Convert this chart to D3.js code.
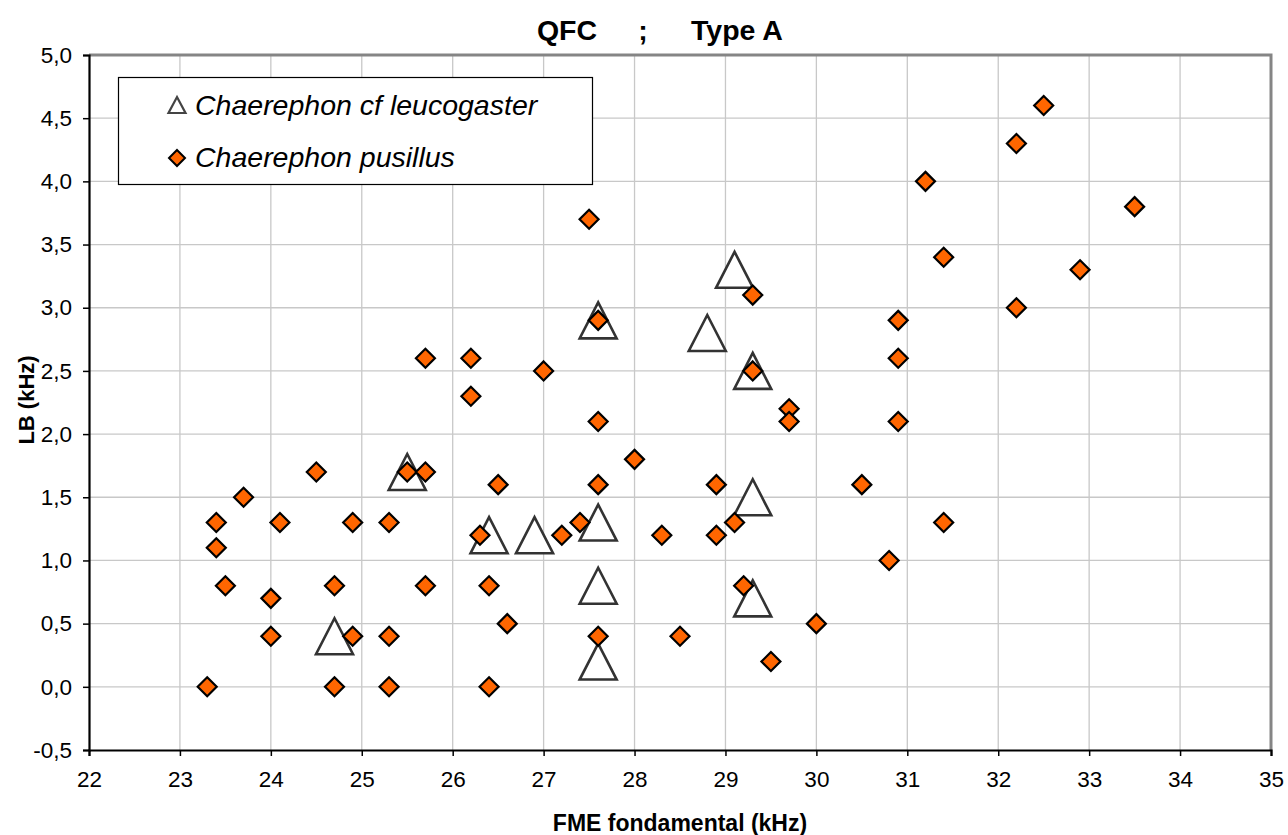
<!DOCTYPE html>
<html>
<head>
<meta charset="utf-8">
<script src="https://cdn.jsdelivr.net/npm/d3@7"></script>
<style>
  body { margin: 0; background: #fff; }
  text { font-family: Arial, "Liberation Sans", sans-serif; }
</style>
</head>
<body>
<div id="chart"></div>
<script>
// Chaerephon cf leucogaster (triangles)
let leucoX = [24.7, 25.5, 26.4, 26.9, 27.6, 27.6, 27.6, 27.6, 28.8, 29.1, 29.3, 29.3, 29.3]
let leucoY = [0.4, 1.7, 1.2, 1.2, 2.9, 1.3, 0.8, 0.2, 2.8, 3.3, 2.5, 1.5, 0.7]

// Chaerephon pusillus (diamonds)
let pusX = [23.3, 23.4, 23.4, 23.5, 23.7, 24.0, 24.0, 24.1, 24.5, 24.7, 24.7, 24.9, 24.9,
  25.3, 25.3, 25.3, 25.5, 25.7, 25.7, 25.7, 26.2, 26.2, 26.3, 26.4, 26.4, 26.5, 26.6,
  27.0, 27.2, 27.4, 27.5, 27.6, 27.6, 27.6, 27.6, 28.0, 28.3, 28.5, 28.9, 28.9, 29.1,
  29.2, 29.3, 29.3, 29.5, 29.7, 29.7, 30.0, 30.5, 30.8, 30.9, 30.9, 30.9, 31.2, 31.4,
  31.4, 32.2, 32.2, 32.5, 32.9, 33.5]
let pusY = [0.0, 1.3, 1.1, 0.8, 1.5, 0.7, 0.4, 1.3, 1.7, 0.8, 0.0, 1.3, 0.4,
  1.3, 0.4, 0.0, 1.7, 2.6, 1.7, 0.8, 2.6, 2.3, 1.2, 0.8, 0.0, 1.6, 0.5,
  2.5, 1.2, 1.3, 3.7, 2.9, 2.1, 1.6, 0.4, 1.8, 1.2, 0.4, 1.6, 1.2, 1.3,
  0.8, 3.1, 2.5, 0.2, 2.2, 2.1, 0.5, 1.6, 1.0, 2.9, 2.6, 2.1, 4.0, 3.4,
  1.3, 4.3, 3.0, 4.6, 3.3, 3.8]

let xTicks = d3.range(22, 36, 1)
let yTicks = d3.range(-0.5, 5.01, 0.5)

let seriesNames = ['Chaerephon cf leucogaster', 'Chaerephon pusillus']
let titleParts = ['QFC', ';', 'Type A']

let width = 1288
let height = 835
let padL = 89
let padR = 1271
let padT = 55
let padB = 750

let x = d3.scaleLinear().domain([22, 35]).range([padL, padR])
let y = d3.scaleLinear().domain([-0.5, 5]).range([padB, padT])

let fr = d3.formatLocale({decimal: ',', thousands: ' ', grouping: [3], currency: ['', ''], minus: '-'})
let fmt = fr.format('.1f')

let svg = d3.select('#chart').append('svg').attr('width', width).attr('height', height)

// gridlines
svg.append('g').selectAll('line')
    .data(xTicks.slice(1, -1))
    .enter().append('line')
      .attr('x1', (d) => x(d)).attr('x2', (d) => x(d))
      .attr('y1', padT).attr('y2', padB)
      .attr('stroke', '#c8c8c8').attr('stroke-width', 1.3)

svg.append('g').selectAll('line')
    .data(yTicks.slice(1, -1))
    .enter().append('line')
      .attr('x1', padL).attr('x2', padR)
      .attr('y1', (d) => y(d)).attr('y2', (d) => y(d))
      .attr('stroke', '#c8c8c8').attr('stroke-width', 1.3)

// top / right frame
svg.append('path')
    .attr('d', 'M' + padL + ',' + padT + 'H' + padR + 'V' + padB)
    .attr('fill', 'none').attr('stroke', '#858585').attr('stroke-width', 3)

// axes
let xAxis = svg.append('g')
    .attr('transform', 'translate(0,' + padB + ')')
    .call(d3.axisBottom(x).tickValues(xTicks).tickFormat(d3.format('d')).tickSize(6).tickPadding(15))
let yAxis = svg.append('g')
    .attr('transform', 'translate(' + padL + ',0)')
    .call(d3.axisLeft(y).tickValues(yTicks).tickFormat(fmt).tickSize(6).tickPadding(11))

;[xAxis, yAxis].forEach(function (a) {
  a.select('.domain').attr('stroke', '#000').attr('stroke-width', 2.2)
  a.selectAll('.tick line').attr('stroke', '#000').attr('stroke-width', 1.5)
  a.selectAll('.tick text').attr('font-size', 22.5).attr('fill', '#000')
      .style('font-family', 'Arial, "Liberation Sans", sans-serif')
})

// markers
let tri = 'M0,-18L18.5,18L-18.5,18Z'
let triSmall = 'M0,-8L8.5,8L-8.5,8Z'
let diamond = 'M0,-9.5L9.5,0L0,9.5L-9.5,0Z'
let diamondSmall = 'M0,-8L8,0L0,8L-8,0Z'

svg.append('g').selectAll('path')
    .data(d3.range(leucoX.length))
    .enter().append('path')
      .attr('d', tri)
      .attr('transform', (i) => 'translate(' + x(leucoX[i]) + ',' + y(leucoY[i]) + ')')
      .attr('fill', '#fff').attr('stroke', '#333').attr('stroke-width', 2.6)

svg.append('g').selectAll('path')
    .data(d3.range(pusX.length))
    .enter().append('path')
      .attr('d', diamond)
      .attr('transform', (i) => 'translate(' + x(pusX[i]) + ',' + y(pusY[i]) + ')')
      .attr('fill', '#ff6600').attr('stroke', '#000').attr('stroke-width', 2.2)

// legend
let legend = svg.append('g')
legend.append('rect')
    .attr('x', 118.5).attr('y', 77.5).attr('width', 474).attr('height', 107)
    .attr('fill', '#fff').attr('stroke', '#000').attr('stroke-width', 1.2)
legend.append('path').attr('d', triSmall).attr('transform', 'translate(177,105)')
    .attr('fill', '#fff').attr('stroke', '#444').attr('stroke-width', 2.2)
legend.append('path').attr('d', diamondSmall).attr('transform', 'translate(177,158)')
    .attr('fill', '#ff6600').attr('stroke', '#000').attr('stroke-width', 2)
legend.selectAll('text')
    .data(seriesNames)
    .enter().append('text')
      .attr('x', 195).attr('y', (d, i) => 115 + i * 52)
      .attr('font-size', 28.5).attr('font-style', 'italic')
      .text((d) => d)

// titles
let titleX = [567, 643, 737]
svg.append('g').selectAll('text')
    .data(titleParts)
    .enter().append('text')
      .attr('x', (d, i) => titleX[i]).attr('y', 40).attr('text-anchor', 'middle')
      .attr('font-size', 28.5).attr('font-weight', 'bold')
      .text((d) => d)

svg.append('text')
    .attr('x', 680).attr('y', 831).attr('text-anchor', 'middle')
    .attr('font-size', 23).attr('font-weight', 'bold')
    .text('FME fondamental (kHz)')

svg.append('text')
    .attr('transform', 'translate(34,400) rotate(-90)')
    .attr('text-anchor', 'middle')
    .attr('font-size', 22).attr('font-weight', 'bold')
    .text('LB (kHz)')
</script>
</body>
</html>
